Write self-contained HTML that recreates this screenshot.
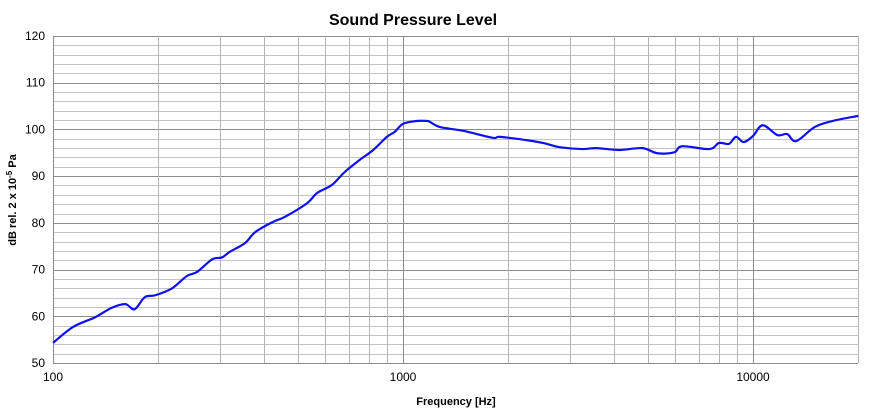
<!DOCTYPE html>
<html><head><meta charset="utf-8"><style>
body{margin:0;background:#fff;font-family:"Liberation Sans",sans-serif}
svg{display:block}
</style></head><body>
<svg id="c" width="884" height="419" xmlns="http://www.w3.org/2000/svg">
<text x="413" y="25" text-anchor="middle" font-size="16" font-weight="bold" fill="#000">Sound Pressure Level</text>
<text x="456" y="405" text-anchor="middle" font-size="11" font-weight="bold">Frequency [Hz]</text>
<text transform="translate(16,200) rotate(-90)" text-anchor="middle" font-size="11" font-weight="bold">dB rel. 2 x 10<tspan dy="-4" font-size="8">-5</tspan><tspan dy="4"> Pa</tspan></text>
<g id="grid"></g><g id="ticks"></g><path id="curve" fill="none" stroke="#1010ee" stroke-width="2.2"/>
</svg>
<script>
const freqs=[100,114,132,147,161,171,183,196,219,241,258,285,304,320,354,378,425,460,532,568,626,682,753,822,899,948,1000,1093,1175,1195,1276,1487,1807,1895,2352,2576,2802,3255,3570,4150,4830,5330,5960,6270,7500,8000,8530,8940,9400,10000,10660,11730,12520,13280,15000,16870,20000];
const spl=[54.3,57.7,59.8,61.8,62.6,61.5,64.1,64.5,66,68.6,69.5,72.2,72.6,73.8,75.7,78,80.2,81.3,84.2,86.4,88.1,90.9,93.5,95.6,98.4,99.5,101.2,101.8,101.8,101.6,100.5,99.7,98.2,98.4,97.5,96.9,96.2,95.8,96.0,95.6,96.0,94.9,95.1,96.4,95.8,97.1,96.9,98.4,97.3,98.6,100.9,98.8,99.0,97.5,100.5,101.8,102.9];
const yTicks=[50,60,70,80,90,100,110,120];
const xTickLabels=[100,1000,10000];
const L=53,R=858,T=36,B=363;
const X=f=>L+350*Math.log10(f/100);
const Y=v=>T+(120-v)*(B-T)/70;
const ns="http://www.w3.org/2000/svg";
const g=document.getElementById('grid'),tk=document.getElementById('ticks');
function line(x1,y1,x2,y2,c,w,name){const l=document.createElementNS(ns,'line');
l.setAttribute('x1',x1);l.setAttribute('y1',y1);l.setAttribute('x2',x2);l.setAttribute('y2',y2);
l.setAttribute('stroke',c);l.setAttribute('stroke-width',w);


g.appendChild(l);}
for(let v=50;v<=120;v+=2){const major=v%10===0;const y=Math.round(Y(v))+0.5;line(L,y,R,y,major?'#8c8c8c':'#c4c4c4',1,major?'major-gridline-y':'minor-gridline-y');}
for(let d=100;d<=10000;d*=10){for(let m=1;m<=9;m++){const f=d*m;if(f>20000)break;const x=Math.round(X(f))+0.5;line(x,T,x,B,m===1?'#8c8c8c':'#b4b4b4',1,m===1?'major-gridline-x':'minor-gridline-x');}}
{const x=Math.round(X(20000))+0.5;line(x,T,x,B,'#b4b4b4',1,'minor-gridline-x');}
line(L+0.5,T,L+0.5,B,'#8c8c8c',1,'y-axis-line');line(L,B+0.5,R,B+0.5,'#8c8c8c',1,'x-axis-line');
yTicks.forEach(v=>{const t=document.createElementNS(ns,'text');t.setAttribute('x',L-8);t.setAttribute('y',Y(v)+4);
t.setAttribute('text-anchor','end');t.setAttribute('font-size','12');t.textContent=v;


tk.appendChild(t);});
xTickLabels.forEach(f=>{const t=document.createElementNS(ns,'text');t.setAttribute('x',X(f));t.setAttribute('y',B+18);
t.setAttribute('text-anchor','middle');t.setAttribute('font-size','12');t.textContent=f;


tk.appendChild(t);});
const P=freqs.map((f,i)=>[X(f),Y(spl[i])]);
let d='M'+P[0][0]+','+P[0][1];
for(let i=0;i<P.length-1;i++){const p0=P[Math.max(0,i-1)],p1=P[i],p2=P[i+1],p3=P[Math.min(P.length-1,i+2)];
const c1=[p1[0]+(p2[0]-p0[0])/6,p1[1]+(p2[1]-p0[1])/6],c2=[p2[0]-(p3[0]-p1[0])/6,p2[1]-(p3[1]-p1[1])/6];
d+=' C'+c1+' '+c2+' '+p2;}
document.getElementById('curve').setAttribute('d',d);
</script>
</body></html>
